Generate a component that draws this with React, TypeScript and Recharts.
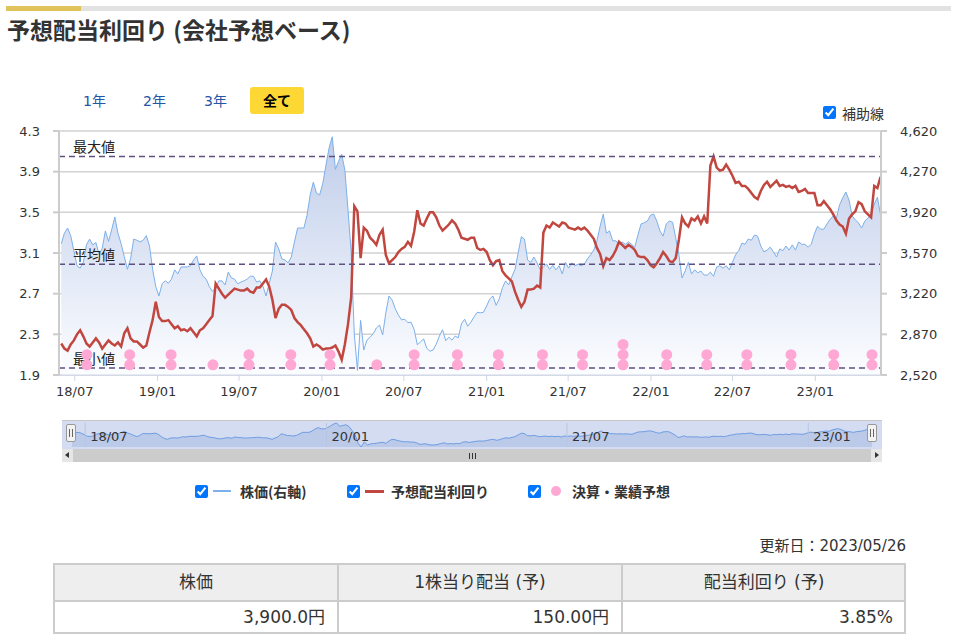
import React from "react";
import {
  ComposedChart,
  AreaChart,
  Area,
  Line,
  Scatter,
  XAxis,
  YAxis,
  CartesianGrid,
  ReferenceLine,
} from "recharts";

const DAY = 86400000;
// weekly closes starting 2018/06/01, last one is 2023/05/26
const START = Date.UTC(2018, 5, 1);

const price = [
  3650, 3740, 3785, 3720, 3590, 3460, 3440, 3490, 3640, 3690,
  3640, 3660, 3560, 3610, 3760, 3670, 3770, 3880, 3740, 3650,
  3540, 3430, 3520, 3690, 3680, 3665, 3680, 3720, 3630, 3430,
  3280, 3200, 3305, 3330, 3310, 3345, 3425, 3390, 3450, 3450,
  3450, 3460, 3510, 3545, 3425, 3370, 3345, 3280, 3240, 3270,
  3330, 3330, 3295, 3405, 3355, 3345, 3305, 3320, 3330, 3345,
  3370, 3370, 3320, 3330, 3285, 3200, 3310, 3415, 3665, 3605,
  3520, 3510, 3485, 3535, 3665, 3785, 3785, 3785, 3895, 4070,
  4180, 4085, 4070, 4170, 4325, 4475, 4570, 4290, 4360, 4420,
  4285, 3940, 3580, 2870, 2560, 2990, 2735, 2820, 2845, 2875,
  2925, 2950, 2865, 3055, 3200, 3165, 3090, 3035, 2995, 3000,
  2970, 2975, 2910, 2780, 2805, 2830, 2750, 2725, 2735, 2785,
  2855, 2910, 2815, 2845, 2820, 2855, 2840, 2960, 3000, 2940,
  2975, 3020, 3060, 3055, 3060, 3115, 3175, 3200, 3120, 3175,
  3270, 3330, 3295, 3365, 3430, 3570, 3710, 3690, 3510, 3490,
  3535, 3485, 3425, 3450, 3475, 3430, 3465, 3425, 3460, 3390,
  3490, 3440, 3485, 3460, 3475, 3460, 3475, 3520, 3555, 3595,
  3675, 3800, 3905, 3740, 3760, 3675, 3675, 3645, 3665, 3645,
  3665, 3645, 3620, 3725, 3820, 3830, 3845, 3895, 3905, 3845,
  3760, 3715, 3820, 3845, 3835, 3700, 3555, 3355, 3415, 3490,
  3390, 3425, 3400, 3415, 3380, 3380, 3405, 3370, 3450, 3460,
  3440, 3460, 3425, 3490, 3555, 3590, 3655, 3645, 3690, 3680,
  3725, 3715, 3630, 3580, 3595, 3620, 3580, 3535, 3605, 3590,
  3630, 3595, 3640, 3595, 3665, 3645, 3645, 3620, 3645, 3735,
  3800, 3775, 3775, 3820, 3860, 3890, 3870, 3985, 4045, 4095,
  4025, 3890, 3855, 3830, 3785, 3845, 3870, 3905, 3990, 4050,
  3900,
];

const yld = [
  2.21, 2.16, 2.14, 2.2, 2.24, 2.3, 2.34, 2.28, 2.21, 2.18,
  2.22, 2.26, 2.22, 2.16, 2.2, 2.24, 2.21, 2.19, 2.22, 2.18,
  2.31, 2.36, 2.26, 2.23, 2.23, 2.2, 2.17, 2.19, 2.32, 2.44,
  2.62, 2.47, 2.43, 2.43, 2.44, 2.4, 2.36, 2.38, 2.34, 2.35,
  2.33, 2.36, 2.32, 2.28, 2.34, 2.36, 2.4, 2.44, 2.48, 2.8,
  2.75, 2.7, 2.66, 2.69, 2.72, 2.75, 2.74, 2.73, 2.73, 2.75,
  2.72, 2.71, 2.76, 2.76, 2.8, 2.84, 2.77, 2.64, 2.46, 2.55,
  2.59, 2.59, 2.57, 2.54, 2.46, 2.42, 2.39, 2.35, 2.31, 2.26,
  2.18, 2.2, 2.18, 2.15, 2.16, 2.16, 2.17, 2.19, 2.13, 2.05,
  2.2, 2.4, 2.66, 3.56, 3.51, 3.05, 3.35, 3.32, 3.25, 3.22,
  3.18, 3.28, 3.33, 3.08, 3.0, 3.03, 3.06, 3.11, 3.14, 3.16,
  3.21, 3.17, 3.31, 3.52, 3.39, 3.37, 3.44, 3.5, 3.5, 3.45,
  3.37, 3.32, 3.35, 3.38, 3.42, 3.39, 3.33, 3.25, 3.24, 3.23,
  3.25, 3.25, 3.15, 3.13, 3.14, 3.11, 3.03, 2.98, 3.02, 3.03,
  2.92, 2.88, 2.85, 2.82, 2.72, 2.64, 2.57, 2.62, 2.74, 2.74,
  2.75, 2.78, 2.76, 3.3, 3.37, 3.35, 3.4, 3.38, 3.36, 3.4,
  3.39, 3.35, 3.34, 3.33, 3.35, 3.33, 3.35, 3.32, 3.28, 3.24,
  3.15, 3.09, 2.97, 3.05, 3.03, 3.07, 3.13, 3.21, 3.18, 3.15,
  3.18, 3.16, 3.13, 3.07, 3.06, 3.06, 3.03, 2.98, 2.96, 3.0,
  3.05, 3.11, 3.07, 3.02, 3.01, 3.05, 3.23, 3.45, 3.39, 3.36,
  3.44, 3.42, 3.46, 3.39, 3.46, 3.39, 3.96, 4.05, 3.94, 3.91,
  3.92, 3.97, 3.92, 3.86, 3.79, 3.8, 3.76, 3.76, 3.73, 3.69,
  3.65, 3.63, 3.71, 3.77, 3.8, 3.75, 3.78, 3.81, 3.76, 3.77,
  3.75, 3.76, 3.74, 3.76, 3.7, 3.71, 3.73, 3.69, 3.69, 3.69,
  3.57, 3.57, 3.61, 3.57, 3.53, 3.48, 3.42, 3.38, 3.36, 3.29,
  3.44, 3.48, 3.51, 3.6, 3.58, 3.51, 3.48, 3.45, 3.76, 3.74,
  3.85,
];

// 決算・業績予想 (date, number of announcements stacked)
const eventDates = [
  "2018-07-28", "2018-10-31", "2019-01-31", "2019-05-04", "2019-07-23",
  "2019-10-24", "2020-01-19", "2020-05-02", "2020-07-24", "2020-10-28",
  "2021-01-27", "2021-05-05", "2021-08-02", "2021-10-31", "2022-02-05",
  "2022-05-05", "2022-08-02", "2022-11-08", "2023-02-11", "2023-05-07",
];
const eventCounts = [2, 2, 2, 1, 2, 2, 2, 1, 2, 2, 2, 2, 2, 3, 2, 2, 2, 2, 2, 2];

const refLabels = ["最大値", "平均値", "最小値"];
const refValues = [4.05, 2.99, 1.97];

const xTickDates = [
  "2018-07-01", "2019-01-01", "2019-07-01", "2020-01-01", "2020-07-01",
  "2021-01-01", "2021-07-01", "2022-01-01", "2022-07-01", "2023-01-01",
];
const navTickDates = ["2018-07-01", "2020-01-01", "2021-07-01", "2023-01-01"];
const leftTicks = [1.9, 2.3, 2.7, 3.1, 3.5, 3.9, 4.3];
const rightTicks = [2520, 2870, 3220, 3570, 3920, 4270, 4620];

const rangeButtons = ["1年", "2年", "3年", "全て"];
const legendNames = ["株価(右軸)", "予想配当利回り", "決算・業績予想"];
const tableHeaders = ["株価", "1株当り配当 (予)", "配当利回り (予)"];
const tableValues = ["3,900.0円", "150.00円", "3.85%"];
const updated = "更新日：2023/05/26";

const X_DOMAIN = [Date.UTC(2018, 4, 27), Date.UTC(2023, 4, 27)];
const DOT_BASE = 2.0;
const DOT_STEP = 0.1;

const BLUE = "#7cb0ea";
const RED = "#c1463f";
const PINK = "#ffa8d4";
const NUM_FONT = "'DejaVu Sans', 'Noto Sans CJK JP', sans-serif";
const JP_FONT = "'Noto Sans CJK JP', sans-serif";

const mainData = price.map((p, i) => ({ t: START + i * 7 * DAY, price: p, yld: yld[i] }));

const dotData = eventDates.flatMap((d, i) =>
  Array.from({ length: eventCounts[i] }, (_, k) => ({ t: Date.parse(d), y: DOT_BASE + k * DOT_STEP }))
);

const fmtMonth = (t: number) => {
  const d = new Date(t);
  return String(d.getUTCFullYear()).slice(2) + "/" + String(d.getUTCMonth() + 1).padStart(2, "0");
};

const refLabel = (text: string) => (props: any) => {
  const vb = props.viewBox || {};
  return (
    <text x={vb.x + 14} y={vb.y - 4} fontSize={14} fill="#222" fontFamily={JP_FONT}>
      {text}
    </text>
  );
};

const navLabel = (text: string) => (props: any) => {
  const vb = props.viewBox || {};
  return (
    <text x={vb.x + 5} y={vb.y + vb.height / 2 + 6} fontSize={13} fill="#333" fontFamily={NUM_FONT}>
      {text}
    </text>
  );
};

const dotShape = (props: any) => <circle cx={props.cx} cy={props.cy} r={5.5} fill={PINK} />;

const abs = (left: number, top: number, extra: React.CSSProperties = {}): React.CSSProperties => ({
  position: "absolute",
  left,
  top,
  ...extra,
});

function Handle({ left }: { left: number }) {
  return (
    <div style={abs(left, 424, { width: 8, height: 16, background: "#f2f2f2", border: "1px solid #999", borderRadius: 2 })}>
      <div style={abs(2, 4, { width: 1, height: 8, background: "#666" })} />
      <div style={abs(5, 4, { width: 1, height: 8, background: "#666" })} />
    </div>
  );
}

export default function App() {
  const btnX = [83, 143, 204, 250];
  const legendX = [195, 347, 528];

  return (
    <div style={abs(0, 0, { width: 957, height: 641, background: "#fff", fontFamily: JP_FONT, color: "#333", overflow: "hidden" })}>
      {/* top bar */}
      <div style={abs(6, 6, { width: 945, height: 5, background: "#e2e2e2" })} />
      <div style={abs(6, 6, { width: 75, height: 5, background: "#e0c35a" })} />
      <div style={abs(7, 18, { fontSize: 23, fontWeight: 700, lineHeight: "23px", whiteSpace: "nowrap", color: "#333" })}>
        予想配当利回り (会社予想ベース)
      </div>

      {/* range buttons */}
      {rangeButtons.map((b, i) =>
        i < 3 ? (
          <div key={b} style={abs(btnX[i], 93, { fontSize: 14, lineHeight: "16px", color: "#2356a6", fontFamily: NUM_FONT })}>
            {b}
          </div>
        ) : (
          <div
            key={b}
            style={abs(btnX[i], 87, {
              width: 54,
              height: 27,
              background: "#fdd835",
              borderRadius: 3,
              fontSize: 14,
              fontWeight: 700,
              lineHeight: "27px",
              textAlign: "center",
              color: "#000",
            })}
          >
            {b}
          </div>
        )
      )}

      {/* 補助線 */}
      <input type="checkbox" checked readOnly style={abs(823, 106, { margin: 0, width: 13, height: 13 })} />
      <div style={abs(842, 105, { fontSize: 14, lineHeight: "16px" })}>補助線</div>

      {/* main chart */}
      <div style={abs(0, 120)}>
        <ComposedChart width={957} height={290} data={mainData} margin={{ top: 11, right: 0, bottom: 0, left: 0 }}>
          <defs>
            <linearGradient id="priceFill" x1="0" y1="0" x2="0" y2="1">
              <stop offset="0%" stopColor="#bfcdea" />
              <stop offset="100%" stopColor="#fcfdff" />
            </linearGradient>
          </defs>
          <CartesianGrid yAxisId="left" vertical={false} stroke="#d2d2d2" strokeWidth={1.5} />
          <XAxis
            dataKey="t"
            type="number"
            domain={X_DOMAIN}
            allowDataOverflow
            ticks={xTickDates.map((d) => Date.parse(d))}
            tickFormatter={fmtMonth}
            height={35}
            stroke="#ccd6eb"
            tickSize={6}
            tickMargin={6}
            tick={{ fontSize: 13, fill: "#333", fontFamily: NUM_FONT }}
          />
          <YAxis
            yAxisId="left"
            width={59}
            domain={[1.9, 4.3]}
            allowDataOverflow
            ticks={leftTicks}
            tickFormatter={(v: number) => v.toFixed(1)}
            stroke="#cccccc"
            strokeWidth={2}
            tickSize={6}
            tickMargin={13}
            tick={{ fontSize: 13, fill: "#333", fontFamily: NUM_FONT }}
          />
          <YAxis
            yAxisId="right"
            orientation="right"
            width={76}
            domain={[2520, 4620]}
            allowDataOverflow
            ticks={rightTicks}
            tickFormatter={(v: number) => v.toLocaleString("en-US")}
            stroke="#cccccc"
            strokeWidth={2}
            tickSize={6}
            tickMargin={13}
            tick={{ fontSize: 13, fill: "#333", fontFamily: NUM_FONT, textAnchor: "start" }}
          />
          <Area
            yAxisId="right"
            dataKey="price"
            type="linear"
            stroke={BLUE}
            strokeWidth={1}
            fill="url(#priceFill)"
            fillOpacity={1}
            dot={false}
            activeDot={false}
            isAnimationActive={false}
          />
          <Line
            yAxisId="left"
            dataKey="yld"
            type="linear"
            stroke={RED}
            strokeWidth={2.5}
            dot={false}
            activeDot={false}
            isAnimationActive={false}
          />
          <Scatter yAxisId="left" data={dotData} dataKey="y" shape={dotShape} isAnimationActive={false} />
          {refValues.map((v, i) => (
            <ReferenceLine
              key={refLabels[i]}
              yAxisId="left"
              y={v}
              stroke="#5f5080"
              strokeWidth={1.5}
              strokeDasharray="6 4"
              label={refLabel(refLabels[i])}
            />
          ))}
        </ComposedChart>
      </div>

      {/* navigator */}
      <div style={abs(62, 420, { width: 820, height: 28, background: "#d3dcf0", borderTop: "1px solid #c6c6c6" })} />
      <div style={abs(62, 420)}>
        <AreaChart width={820} height={28} data={mainData} margin={{ top: 3, right: 10, bottom: 1, left: 10 }}>
          <XAxis dataKey="t" type="number" domain={["dataMin", "dataMax"]} hide />
          <YAxis domain={["dataMin", "dataMax"]} hide />
          {navTickDates.map((d) => (
            <ReferenceLine key={d} x={Date.parse(d)} stroke="#b9c4df" label={navLabel(fmtMonth(Date.parse(d)))} />
          ))}
          <Area
            dataKey="price"
            type="linear"
            stroke="#6d9ce3"
            strokeWidth={1}
            fill="#bccae9"
            fillOpacity={1}
            dot={false}
            activeDot={false}
            isAnimationActive={false}
          />
        </AreaChart>
      </div>
      <Handle left={66} />
      <Handle left={867} />

      {/* scrollbar */}
      <div style={abs(62, 449, { width: 820, height: 13, background: "#f2f2f2" })}>
        <div style={abs(0, 0, { width: 11, height: 13, background: "#e6e6e6" })}>
          <div style={abs(3, 3, { width: 0, height: 0, borderTop: "3.5px solid transparent", borderBottom: "3.5px solid transparent", borderRight: "4px solid #333" })} />
        </div>
        <div style={abs(11, 0, { width: 798, height: 13, background: "#cccccc" })}>
          {[0, 3, 6].map((o) => (
            <div key={o} style={abs(396 + o, 4, { width: 1, height: 6, background: "#333" })} />
          ))}
        </div>
        <div style={abs(809, 0, { width: 11, height: 13, background: "#e6e6e6" })}>
          <div style={abs(4, 3, { width: 0, height: 0, borderTop: "3.5px solid transparent", borderBottom: "3.5px solid transparent", borderLeft: "4px solid #333" })} />
        </div>
      </div>

      {/* legend */}
      {legendNames.map((n, i) => (
        <React.Fragment key={n}>
          <input type="checkbox" checked readOnly style={abs(legendX[i], 485, { margin: 0, width: 13, height: 13 })} />
          {i === 0 && <div style={abs(213, 490, { width: 18, height: 2, background: BLUE })} />}
          {i === 1 && <div style={abs(365, 490, { width: 19, height: 3, background: RED })} />}
          {i === 2 && <div style={abs(551, 486, { width: 10, height: 10, borderRadius: 5, background: PINK })} />}
          <div style={abs([240, 391, 572][i], 483, { fontSize: 14, fontWeight: 700, lineHeight: "16px", whiteSpace: "nowrap" })}>
            {n}
          </div>
        </React.Fragment>
      ))}

      {/* update date */}
      <div style={abs(600, 538, { width: 306, textAlign: "right", fontSize: 15, lineHeight: "17px", fontFamily: NUM_FONT })}>
        {updated}
      </div>

      {/* table */}
      <div style={abs(53, 563, { width: 853, height: 71, border: "2px solid #cccccc", boxSizing: "border-box" })}>
        <div style={abs(0, 0, { width: 849, height: 35, background: "#eeeeee", borderBottom: "2px solid #cccccc" })} />
        {tableHeaders.map((h, i) => (
          <React.Fragment key={h}>
            {i > 0 && <div style={abs(i * 284 - 2, 0, { width: 2, height: 67, background: "#cccccc" })} />}
            <div style={abs(i * 284, 0, { width: 282, height: 35, lineHeight: "35px", textAlign: "center", fontSize: 17, fontFamily: NUM_FONT })}>
              {h}
            </div>
            <div style={abs(i * 284, 37, { width: 270, height: 30, lineHeight: "30px", textAlign: "right", fontSize: 17, fontFamily: NUM_FONT })}>
              {tableValues[i]}
            </div>
          </React.Fragment>
        ))}
      </div>
    </div>
  );
}
